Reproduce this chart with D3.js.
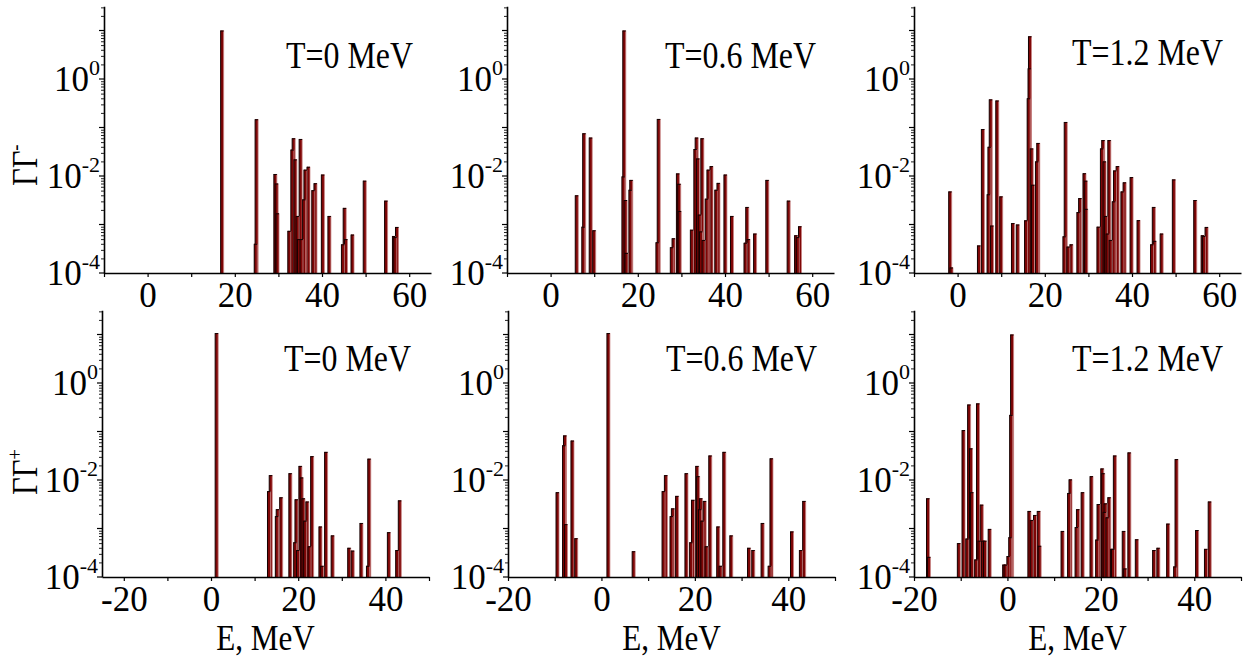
<!DOCTYPE html>
<html><head><meta charset="utf-8">
<script src="https://cdn.jsdelivr.net/npm/d3@7"></script>
<style>
body{margin:0;background:#fff}
text{font-family:"Liberation Serif","Times New Roman",serif;fill:#000}
</style>
</head><body>
<svg id="c" width="1246" height="661"></svg>
<script>
// ---------- data ----------
const tLabels = ["T=0 MeV", "T=0.6 MeV", "T=1.2 MeV"];
const yLabelSigns = ["-", "+"];
const xLabel = "E, MeV";
const yMajorTicks = [1e-4, 1e-2, 1];
const yMajorExponents = ["-4", "-2", "0"];
const xTickLabelsTop = [0, 20, 40, 60];
const xTickLabelsBottom = [-20, 0, 20, 40];

// Γ⁻ strength, T = 0 MeV
const eMinusT0 = [17.1, 24.8, 25.0, 29.3, 29.6, 29.8, 32.5, 33.2, 33.5, 33.9, 34.4, 34.7, 35.1, 35.3, 35.9, 36.2, 36.9, 38.0, 38.5, 40.2, 41.7, 44.8, 45.2, 45.5, 47.0, 49.8, 54.7, 56.5, 56.8, 57.2];
const gMinusT0 = [10, 4e-4, 0.148, 0.011, 0.007, 0.0017, 7.4e-4, 0.035, 0.06, 0.022, 0.0015, 5e-4, 0.058, 5e-4, 0.0033, 0.0135, 0.0155, 0.0051, 0.0071, 0.0107, 0.0015, 3.9e-4, 0.0022, 5e-4, 6.2e-4, 0.008, 0.0031, 5.8e-4, 5.5e-4, 8.9e-4];
// Γ⁻ strength, T = 0.6 MeV
const eMinusT06 = [6.0, 7.5, 7.7, 9.2, 10.0, 16.7, 16.9, 17.2, 17.4, 18.3, 18.5, 24.5, 24.8, 27.8, 28.2, 29.2, 29.5, 29.6, 32.4, 33.2, 33.5, 33.8, 34.2, 34.5, 34.8, 35.1, 35.8, 36.2, 36.9, 38.0, 38.5, 40.1, 41.6, 44.7, 45.1, 45.4, 46.9, 49.7, 54.6, 56.3, 56.7, 57.2];
const gMinusT06 = [0.004, 9e-4, 0.076, 0.062, 7.6e-4, 0.0098, 10, 0.0032, 2.6e-4, 0.0052, 0.0083, 4.3e-4, 0.15, 3.4e-4, 5.2e-4, 0.0113, 0.0069, 0.0019, 7.8e-4, 0.036, 0.062, 0.023, 0.0016, 7.2e-4, 0.06, 4.8e-4, 0.0034, 0.0135, 0.016, 0.0052, 0.0072, 0.0107, 0.0015, 4.2e-4, 0.0023, 5e-4, 6.5e-4, 0.0083, 0.0031, 6e-4, 5.5e-4, 9.2e-4];
// Γ⁻ strength, T = 1.2 MeV
const eMinusT12 = [-1.7, -1.4, 4.9, 5.8, 7.1, 7.3, 7.6, 7.9, 9.1, 10.0, 12.7, 13.8, 15.7, 16.3, 16.5, 16.6, 17.0, 17.3, 18.2, 18.5, 24.5, 24.8, 25.4, 26.1, 27.7, 28.1, 29.1, 29.4, 29.5, 32.3, 33.1, 33.4, 33.7, 34.0, 34.4, 34.8, 35.1, 35.8, 36.1, 36.7, 37.8, 38.3, 39.9, 41.5, 44.6, 45.0, 45.2, 46.8, 49.6, 54.5, 56.2, 56.5, 57.1];
const gMinusT12 = [0.0048, 1.3e-4, 3.7e-4, 0.093, 0.0042, 0.04, 0.38, 9.5e-4, 0.36, 0.0038, 0.00107, 0.001, 0.00122, 0.4, 1.66, 7.6, 0.037, 0.0066, 0.02, 0.048, 5.7e-4, 0.13, 3.5e-4, 3.9e-4, 0.0018, 0.0035, 0.0114, 0.008, 0.0021, 9e-4, 0.037, 0.055, 0.02, 0.0015, 6.5e-4, 0.055, 4.8e-4, 0.003, 0.013, 0.016, 0.0048, 0.0074, 0.0095, 0.00123, 3.9e-4, 0.0023, 4.6e-4, 6.5e-4, 0.0085, 0.0032, 6e-4, 5.8e-4, 8.9e-4];
// Γ⁺ strength, T = 0 MeV
const ePlusT0 = [1.3, 13.3, 13.7, 15.1, 15.3, 16.1, 18.2, 19.3, 19.6, 19.95, 20.5, 20.8, 21.2, 21.6, 22.1, 22.6, 23.2, 25.1, 25.5, 26.4, 27.9, 31.7, 32.5, 34.5, 36.0, 36.3, 40.8, 42.7, 43.3];
const gPlusT0 = [10.7, 0.0059, 0.0126, 0.0018, 0.0025, 0.0044, 0.0138, 5.2e-4, 0.004, 3.6e-4, 0.0195, 0.0113, 0.0042, 0.00145, 0.0036, 4.3e-4, 0.031, 0.0011, 1.7e-4, 0.038, 7.2e-4, 4e-4, 3.5e-4, 0.0013, 1.7e-4, 0.0275, 8.4e-4, 3.6e-4, 0.0038];
// Γ⁺ strength, T = 0.6 MeV
const ePlusT06 = [-9.4, -8.0, -7.8, -7.6, -6.2, -5.4, 1.5, 6.9, 13.3, 13.8, 15.0, 15.3, 16.2, 18.2, 19.2, 19.6, 20.5, 20.7, 21.1, 21.3, 21.6, 22.1, 22.5, 23.3, 25.0, 25.5, 26.3, 27.8, 31.6, 32.5, 34.5, 36.0, 36.4, 40.8, 42.7, 43.4];
const gPlusT06 = [0.0056, 0.052, 0.083, 0.00123, 0.065, 6.3e-4, 10.7, 3.4e-4, 0.0059, 0.0126, 0.0018, 0.0026, 0.0047, 0.0138, 5.2e-4, 0.0039, 0.0195, 0.012, 0.0025, 0.0042, 0.00145, 0.0037, 4.3e-4, 0.032, 0.0011, 1.7e-4, 0.038, 7.2e-4, 4e-4, 3.6e-4, 0.0013, 1.7e-4, 0.028, 8.7e-4, 3.6e-4, 0.0037];
// Γ⁺ strength, T = 1.2 MeV
const ePlusT12 = [-17.0, -16.8, -10.4, -9.4, -8.6, -8.2, -7.8, -7.6, -6.7, -6.3, -6.0, -5.5, -5.2, -4.8, -3.8, -0.7, -0.4, 0.2, 0.6, 0.8, 1.0, 4.7, 5.2, 5.9, 6.7, 6.9, 11.8, 13.2, 13.5, 14.8, 15.1, 16.1, 18.0, 19.2, 19.5, 20.3, 20.5, 20.8, 21.0, 21.4, 21.8, 22.4, 22.6, 23.0, 24.9, 25.2, 26.1, 27.7, 31.4, 32.3, 34.4, 35.9, 36.2, 40.6, 42.5, 43.3];
const gPlusT12 = [0.0042, 2.6e-4, 5e-4, 0.107, 6.2e-4, 0.36, 0.045, 0.0056, 2.3e-4, 0.38, 5.6e-4, 0.0031, 5.6e-4, 5.6e-4, 9.8e-4, 1.8e-4, 1.8e-4, 2.7e-4, 6.6e-4, 0.22, 10, 0.0023, 0.0015, 0.0019, 0.0023, 4.4e-4, 8.9e-4, 0.0054, 0.0103, 0.00107, 0.0025, 0.0056, 0.012, 5.9e-4, 0.0032, 0.0173, 0.0138, 0.0022, 0.0033, 0.0017, 0.0044, 3.8e-4, 3.8e-4, 0.032, 8.9e-4, 1.5e-4, 0.037, 6e-4, 3.6e-4, 4e-4, 0.00126, 1.65e-4, 0.027, 9.3e-4, 3.8e-4, 0.0036];

// ---------- layout ----------
const svg = d3.select("#c");
const W = 327, DEC = 48.5, YMAX = Math.pow(10, 1.5);
const panels = [
  {row:0, col:0, left:104, base:273, dom:[-10,65], ticks:d3.range(-10,61,10), labs:xTickLabelsTop, e:eMinusT0,  g:gMinusT0},
  {row:0, col:1, left:507, base:273, dom:[-10,65], ticks:d3.range(-10,61,10), labs:xTickLabelsTop, e:eMinusT06, g:gMinusT06},
  {row:0, col:2, left:914, base:273, dom:[-10,65], ticks:d3.range(-10,61,10), labs:xTickLabelsTop, e:eMinusT12, g:gMinusT12},
  {row:1, col:0, left:102, base:577, dom:[-25,50], ticks:d3.range(-20,51,10), labs:xTickLabelsBottom, e:ePlusT0,  g:gPlusT0},
  {row:1, col:1, left:508, base:577, dom:[-20,50], ticks:d3.range(-20,51,10), labs:xTickLabelsBottom, e:ePlusT06, g:gPlusT06},
  {row:1, col:2, left:914, base:577, dom:[-20,50], ticks:d3.range(-20,51,10), labs:xTickLabelsBottom, e:ePlusT12, g:gPlusT12}
];

const minorTicks = [];
for (let k = -4; k <= 1; k++) for (let m = 2; m <= 9; m++) {
  const v = m * Math.pow(10, k);
  if (v <= YMAX) minorTicks.push(v);
}
const decadeTicks = [1e-3, 1e-1, 10];

panels.forEach(p => {
  const x = d3.scaleLinear().domain(p.dom).range([p.left, p.left + W]);
  const y = d3.scaleLog().domain([1e-4, YMAX]).range([p.base, p.base - 5.5 * DEC]);
  const g = svg.append("g");

  // bars
  const data = d3.zip(p.e, p.g).filter(d => d[1] > 1e-4).sort((a, b) => b[1] - a[1]);
  const bars = g.append("g");
  data.forEach(d => {
    const cx = x(d[0]), top = y(d[1]);
    bars.append("rect").attr("x", cx - 1.5).attr("y", top).attr("width", 3)
      .attr("height", p.base - top).attr("fill", "#7e0606");
    bars.append("line").attr("x1", cx - 1.5).attr("x2", cx - 1.5).attr("y1", top).attr("y2", p.base)
      .attr("stroke", "#140000").attr("stroke-width", 1);
    bars.append("line").attr("x1", cx + 1.5).attr("x2", cx + 1.5).attr("y1", top).attr("y2", p.base)
      .attr("stroke", "#c98585").attr("stroke-width", 0.8);
    bars.append("line").attr("x1", cx - 1.5).attr("x2", cx + 1.5).attr("y1", top + 0.5).attr("y2", top + 0.5)
      .attr("stroke", "#140000").attr("stroke-width", 1);
  });

  // x axis
  const xa = d3.axisBottom(x).tickValues(p.ticks).tickSize(4).tickSizeOuter(0)
    .tickFormat(v => p.labs.includes(v) ? String(v) : "");
  const xg = g.append("g").attr("transform", `translate(0,${p.base})`).call(xa);
  xg.select(".domain").attr("stroke", "#000").attr("stroke-width", 1.6);
  xg.selectAll(".tick line").attr("stroke", "#000").attr("stroke-width", 1.2);
  xg.selectAll(".tick text").attr("y", 34).attr("dy", 0)
    .style("font-family", '"Liberation Serif", serif').style("font-size", "35px");

  // y axis (line + minor ticks)
  const ya = d3.axisLeft(y).tickValues(minorTicks).tickSize(3).tickSizeOuter(0).tickFormat("");
  const yg = g.append("g").attr("transform", `translate(${p.left},0)`).call(ya);
  yg.select(".domain").attr("stroke", "#000").attr("stroke-width", 1.6);
  yg.selectAll(".tick line").attr("stroke", "#222").attr("stroke-width", 1);
  // decade ticks (unlabelled) and labelled major ticks
  decadeTicks.forEach(v => {
    g.append("line").attr("x1", p.left - 5).attr("x2", p.left).attr("y1", y(v)).attr("y2", y(v))
      .attr("stroke", "#000").attr("stroke-width", 1.2);
  });
  yMajorTicks.forEach((v, i) => {
    g.append("line").attr("x1", p.left - 5).attr("x2", p.left).attr("y1", y(v)).attr("y2", y(v))
      .attr("stroke", "#000").attr("stroke-width", 1.2);
    const t = g.append("text").attr("x", p.left - 4).attr("y", y(v) + 11.5)
      .attr("text-anchor", "end").style("font-size", "35px");
    t.append("tspan").text("10");
    t.append("tspan").attr("dy", -16).style("font-size", "22px").text(yMajorExponents[i]);
  });

  // temperature label
  g.append("g").attr("transform", `translate(${p.left + W - 18},${p.row === 0 ? (p.col === 2 ? 65 : 68) : 371}) scale(0.84,1)`)
    .append("text").attr("text-anchor", "end").style("font-size", "38px").text(tLabels[p.col]);

  // x label for bottom row
  if (p.row === 1) {
    g.append("g").attr("transform", `translate(${p.left + W / 2},650) scale(0.89,1)`)
      .append("text").attr("text-anchor", "middle").style("font-size", "35px").text(xLabel);
  }
});

// y axis titles ΓΓ∓
[[186, 0], [495, 1]].forEach(([yy, i]) => {
  const t = svg.append("g").attr("transform", `translate(37,${yy}) rotate(-90) scale(0.85,1)`)
    .append("text").attr("text-anchor", "start").style("font-size", "36px");
  t.append("tspan").text("ΓΓ");
  t.append("tspan").attr("dy", -15).style("font-size", "22px").text(yLabelSigns[i]);
});
</script>
</body></html>
